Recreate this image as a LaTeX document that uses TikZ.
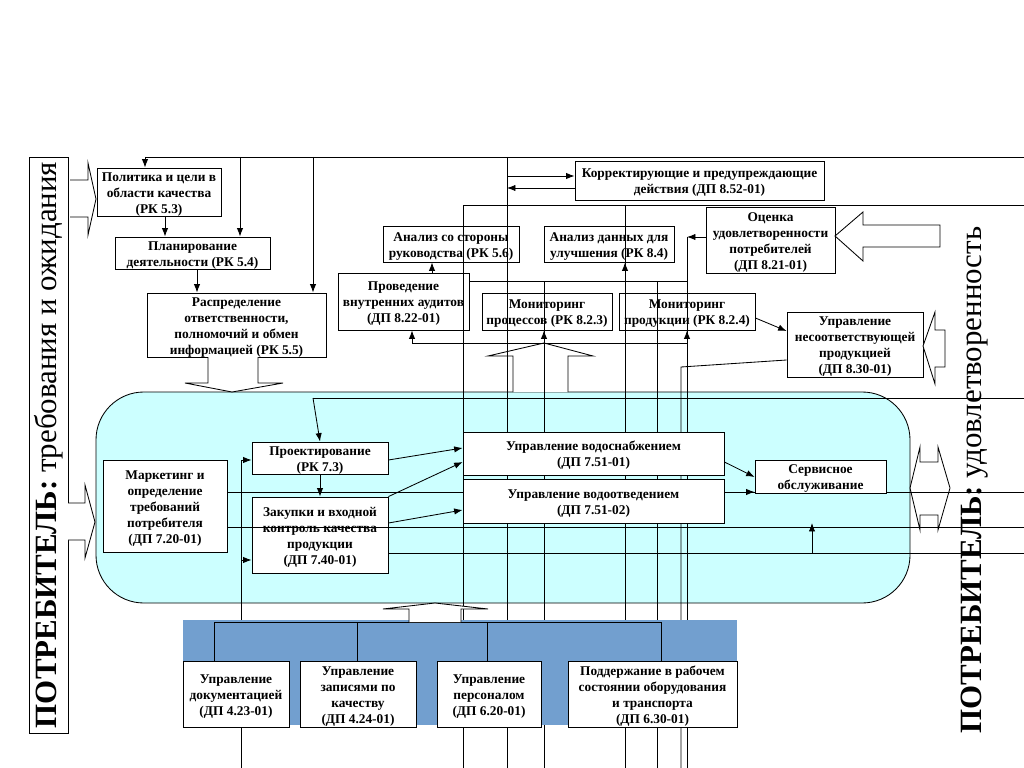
\documentclass[tikz,border=0pt]{standalone}
\usepackage{fontspec}
\setmainfont{Liberation Serif}
\usetikzlibrary{arrows.meta,fit}

\definecolor{pool}{RGB}{204,255,255}
\definecolor{band}{RGB}{114,159,207}

\tikzset{
  box/.style={draw, line width=0.6pt, fill=white, inner sep=0pt},
  txt/.style={inner sep=0pt, yshift=-1.5pt, align=center, font=\bfseries\fontsize{9.5}{11.4}\selectfont},
  ln/.style={line width=0.6pt},
  arr/.style={line width=0.6pt, -{Latex[length=6pt,width=4.5pt]}},
  hollow/.style={draw, line width=0.6pt, fill=white, line join=miter},
}

\begin{document}
\begin{tikzpicture}[x=0.025cm, y=-0.025cm]
   \useasboundingbox (0,0) rectangle (1024,768);
   % Process area
   \draw[ln, fill=pool, rounded corners=34pt] (96,392) rectangle (910,603);
   % Customer (left)
   \draw[ln] (29,157) rectangle (68,733);
   \node[rotate=90, font=\fontsize{22}{26}\selectfont] (reqs) at (49,445)
     {\textbf{ПОТРЕБИТЕЛЬ:} требования и ожидания};
   % Customer (right)
   \node[rotate=90, font=\fontsize{22}{26}\selectfont] (satis) at (975,480)
     {\textbf{ПОТРЕБИТЕЛЬ:} удовлетворенность};
   % Management boxes
   \node[box, fit={(97,168) (221,216)}, label={[txt]center:{Политика и цели в\\области качества\\(РК 5.3)}}] (policy) {};
   \node[box, fit={(115,237) (270,269)}, label={[txt]center:{Планирование\\деятельности (РК 5.4)}}] (plan) {};
   \node[box, fit={(147,293) (326,357)}, label={[txt]center:{Распределение\\ответственности,\\полномочий и обмен\\информацией (РК 5.5)}}] (resp) {};
   \node[box, fit={(575,161) (824,200)}, label={[txt]center:{Корректирующие и предупреждающие\\действия (ДП 8.52-01)}}] (corr) {};
   \node[box, fit={(383,226) (519,262)}, label={[txt]center:{Анализ со стороны\\руководства (РК 5.6)}}] (review) {};
   \node[box, fit={(544,226) (674,262)}, label={[txt]center:{Анализ данных для\\улучшения (РК 8.4)}}] (data) {};
   \node[box, fit={(706,207) (835,273)}, label={[txt]center:{Оценка\\удовлетворенности\\потребителей\\(ДП 8.21-01)}}] (assess) {};
   \node[box, fit={(338,273) (469,330)}, label={[txt]center:{Проведение\\внутренних аудитов\\(ДП 8.22-01)}}] (audit) {};
   \node[box, fit={(482,293) (612,330)}, label={[txt]center:{Мониторинг\\процессов (РК 8.2.3)}}] (monproc) {};
   \node[box, fit={(619,293) (755,330)}, label={[txt]center:{Мониторинг\\продукции (РК 8.2.4)}}] (monprod) {};
   \node[box, fit={(787,312) (923,377)}, label={[txt]center:{Управление\\несоответствующей\\продукцией\\(ДП 8.30-01)}}] (nonconf) {};
   % Block arrows
   \draw[hollow] (70,180) -- (88,180) -- (88,163) -- (96,199) -- (88,235) -- (88,217) -- (70,217);
   \draw[hollow] (68,503) -- (85,503) -- (85,485) -- (95,522) -- (85,558) -- (85,540) -- (68,540);
   \draw[hollow] (208,357) -- (208,383) -- (185,383) -- (232,392) -- (283,383) -- (258,383) -- (258,357);
   \draw[hollow] (513,392) -- (513,356) -- (488,356) -- (544,343) -- (593,356) -- (568,356) -- (568,392);
   \draw[hollow] (940,225) -- (863,225) -- (863,212) -- (835,236) -- (863,261) -- (863,247) -- (940,247) -- cycle;
   \draw[hollow] (945,330) -- (935,330) -- (935,312) -- (923,346) -- (935,384) -- (935,367) -- (945,367) -- cycle;
   \draw[hollow] (910,488) -- (920,447) -- (920,462) -- (938,462) -- (938,447) -- (950,488)
     -- (938,530) -- (938,515) -- (920,515) -- (920,530) -- cycle;
   % Top feedback
   \draw[ln] (145,157) -- (1024,157);
   \draw[arr] (145,157) -- (policy.north -| 145,0);
   \draw[arr] (240,157) -- (plan.north -| 240,0);
   \draw[arr] (313,157) -- (resp.north -| 313,0);
   \draw[arr] (policy.south -| 165,0) -- (plan.north -| 165,0);
   \draw[arr] (plan.south -| 197,0) -- (resp.north -| 197,0);
   \draw[ln] (507,157) -- (507,768);
   \draw[arr] (507,176) -- (corr.west |- 0,176);
   \draw[arr] (corr.west |- 0,188) -- (507,188);
   \draw[ln] (463,205) -- (1024,205);
   \draw[ln] (463,205) -- (463,768);
   \draw[ln] (625,205) -- (625,768);
   \draw[arr] (625,280) -- (data.south -| 625,0);
   \draw[arr] (assess.west |- 0,237) -- (687,237);
   \draw[ln] (687,237) -- (687,768);
   % Audits and monitoring
   \draw[ln] (audit.east |- 0,281) -- (687,281);
   \draw[ln] (544,281) -- (544,768);
   \draw[ln] (657,281) -- (657,768);
   \draw[arr] (audit.north -| 432,0) -- (review.south -| 432,0);
   \draw[ln] (412,343) -- (687,343);
   \draw[arr] (412,343) -- (audit.south -| 412,0);
   \draw[arr] (544,343) -- (monproc.south -| 544,0);
   \draw[arr] (687,343) -- (monprod.south -| 687,0);
   \draw[arr] (monprod.east |- 0,318) -- (nonconf.west |- 0,331);
   \draw[ln] (nonconf.west |- 0,360) -- (681,367) -- (681,768);
   % Lines through the process area
   \draw[ln] (313,398) -- (1024,398);
   \draw[ln] (227,492) -- (1024,492);
   \draw[ln] (388,553) -- (1024,553);
   \draw[arr] (812,553) -- (812,523);
   \draw[ln] (241,768) -- (241,460);
   % Support resources
   \fill[band] (183,620) rectangle (737,725);
   \draw[ln] (214,622) -- (661,622);
   \foreach \tx in {214,357,487,661}
     \draw[ln] (\tx,622) -- (\tx,661);
   \draw[hollow] (409,622) -- (409,609) -- (383,609) -- (435,603) -- (488,609) -- (461,609) -- (461,622);
   \node[box, fit={(183,661) (289,727)}, label={[txt]center:{Управление\\документацией\\(ДП 4.23-01)}}] (docs) {};
   \node[box, fit={(300,661) (416,727)}, label={[txt]center:{Управление\\записями по\\качеству\\(ДП 4.24-01)}}] (recs) {};
   \node[box, fit={(437,661) (541,727)}, label={[txt]center:{Управление\\персоналом\\(ДП 6.20-01)}}] (staff) {};
   \node[box, fit={(568,661) (737,727)}, label={[txt]center:{Поддержание в рабочем\\состоянии оборудования\\и транспорта\\(ДП 6.30-01)}}] (equip) {};
   % Core processes
   \node[box, fit={(103,460) (227,552)}, label={[txt]center:{Маркетинг и\\определение\\требований\\потребителя\\(ДП 7.20-01)}}] (market) {};
   \node[box, fit={(252,442) (388,474)}, label={[txt]center:{Проектирование\\(РК 7.3)}}] (design) {};
   \node[box, fit={(252,497) (388,573)}, label={[txt]center:{Закупки и входной\\контроль качества\\продукции\\(ДП 7.40-01)}}] (purch) {};
   \node[box, fit={(463,432) (724,475)}, label={[txt]center:{Управление водоснабжением\\(ДП 7.51-01)}}] (supply) {};
   \node[box, fit={(463,479) (724,523)}, label={[txt]center:{Управление водоотведением\\(ДП 7.51-02)}}] (drain) {};
   \node[box, fit={(755,460) (886,493)}, label={[txt]center:{Сервисное\\обслуживание}}] (service) {};
   \draw[ln] (227,527) -- (1024,527);
   \draw[arr] (313,398) -- (design.north);
   \draw[arr] (design.south) -- (purch.north);
   \draw[arr] (241,460) -- (design.west |- 0,460);
   \draw[arr] (241,560) -- (purch.west |- 0,560);
   \draw[arr] (design.east |- 0,460) -- (supply.west |- 0,448);
   \draw[arr] (purch.north east) -- (supply.west |- 0,462);
   \draw[arr] (purch.east |- 0,523) -- (drain.west |- 0,510);
   \draw[arr] (supply.east |- 0,462) -- (service.west |- 0,477);
   \draw[arr] (drain.east |- 0,492) -- (service.west |- 0,492);
\end{tikzpicture}
\end{document}
